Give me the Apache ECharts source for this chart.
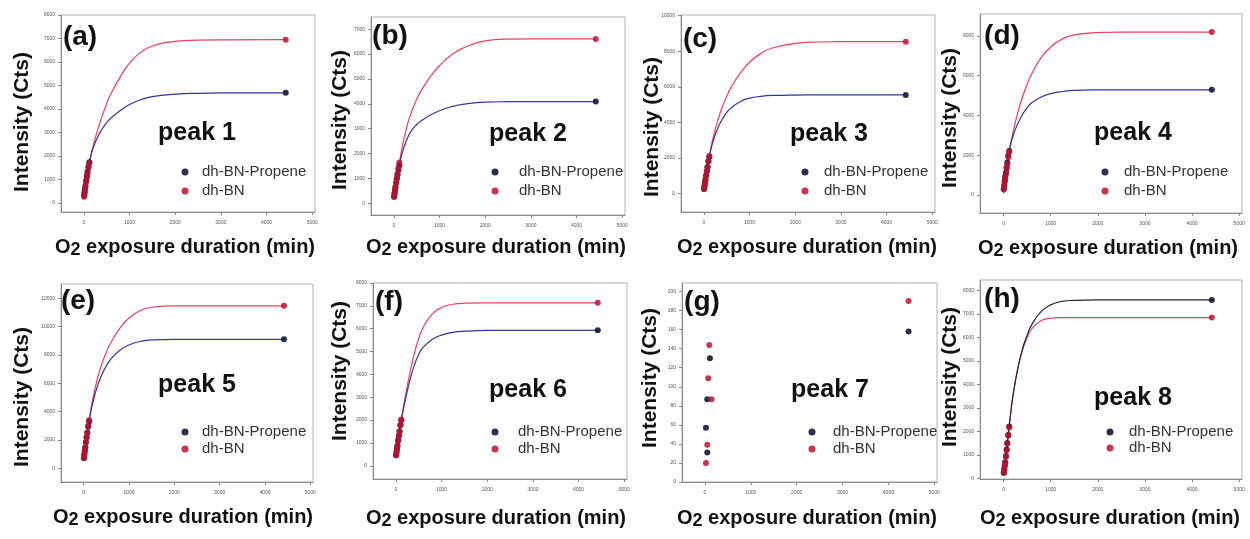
<!DOCTYPE html>
<html><head><meta charset="utf-8">
<script src="https://cdn.jsdelivr.net/npm/echarts@6/dist/echarts.min.js"></script>
<style>html,body{margin:0;padding:0;background:#fff}#c{width:1250px;height:539px}</style>
</head><body><div id="c"></div>
<script>
// ---------- data ----------
const SERIES_NAMES = ['dh-BN-Propene', 'dh-BN'];
const PANEL_TAGS = ['(a)', '(b)', '(c)', '(d)', '(e)', '(f)', '(g)', '(h)'];
const PEAK_NAMES = ['peak 1', 'peak 2', 'peak 3', 'peak 4', 'peak 5', 'peak 6', 'peak 7', 'peak 8'];
const X_TITLE = 'O{s|2} exposure duration (min)';
const Y_TITLE = 'Intensity (Cts)';
const X_TICKS = [0, 1000, 2000, 3000, 4000, 5000];

// fit-curve sample times (min) and measured times (min)
const FIT_T = [0, 50, 100, 150, 200, 300, 400, 500, 600, 800, 1000, 1250, 1500, 2000, 2500, 3000, 4420];
const PT_T = [5, 15, 25, 35, 50, 65, 80, 100, 120, 4420];

// (a) peak 1
const yTicks_a = [0, 1000, 2000, 3000, 4000, 5000, 6000, 7000, 8000];
const fitP_a = [250, 950, 1550, 1990, 2330, 2800, 3150, 3420, 3630, 3940, 4190, 4400, 4530, 4630, 4670, 4685, 4690];
const fitB_a = [200, 900, 1500, 1990, 2400, 3100, 3700, 4230, 4680, 5380, 5950, 6420, 6680, 6880, 6930, 6945, 6950];
const ptP_a = [320, 460, 600, 740, 950, 1140, 1320, 1550, 1740, 4690];
const ptB_a = [270, 410, 550, 690, 900, 1080, 1260, 1500, 1700, 6950];
// (b) peak 2
const yTicks_b = [0, 1000, 2000, 3000, 4000, 5000, 6000, 7000];
const fitP_b = [200, 830, 1350, 1780, 2130, 2640, 2960, 3170, 3320, 3550, 3720, 3880, 3980, 4070, 4085, 4090, 4090];
const fitB_b = [200, 830, 1420, 1950, 2420, 3180, 3740, 4180, 4540, 5090, 5540, 5950, 6230, 6530, 6600, 6610, 6610];
const ptP_b = [260, 390, 520, 650, 830, 990, 1150, 1350, 1530, 4090];
const ptB_b = [260, 390, 520, 650, 830, 1010, 1190, 1420, 1640, 6610];
// (c) peak 3
const yTicks_c = [0, 2000, 4000, 6000, 8000, 10000];
const fitP_c = [150, 1000, 1800, 2420, 2900, 3640, 4160, 4550, 4820, 5170, 5360, 5460, 5510, 5535, 5540, 5540, 5540];
const fitB_c = [150, 1000, 1820, 2520, 3110, 4070, 4830, 5460, 5980, 6780, 7380, 7880, 8180, 8440, 8520, 8540, 8540];
const ptP_c = [250, 420, 590, 760, 1000, 1240, 1470, 1800, 2040, 5540];
const ptB_c = [240, 410, 580, 750, 1000, 1250, 1490, 1820, 2100, 8540];
// (d) peak 4
const yTicks_d = [0, 2000, 4000, 6000, 8000];
const fitP_d = [100, 1120, 1980, 2540, 2970, 3580, 4040, 4390, 4640, 4930, 5100, 5205, 5260, 5285, 5290, 5290, 5290];
const fitB_d = [100, 1050, 1900, 2580, 3150, 4130, 4930, 5580, 6110, 6920, 7440, 7850, 8050, 8170, 8190, 8190, 8190];
const ptP_d = [300, 510, 720, 930, 1120, 1390, 1640, 1980, 2210, 5290];
const ptB_d = [290, 480, 670, 860, 1050, 1310, 1560, 1900, 2170, 8190];
// (e) peak 5
const yTicks_e = [0, 2000, 4000, 6000, 8000, 10000, 12000];
const fitP_e = [590, 1850, 2930, 3850, 4600, 5770, 6600, 7230, 7700, 8330, 8700, 8950, 9060, 9100, 9100, 9100, 9100];
const fitB_e = [590, 1850, 2980, 4000, 4880, 6290, 7360, 8190, 8850, 9880, 10600, 11130, 11360, 11460, 11460, 11460, 11460];
const ptP_e = [720, 970, 1220, 1470, 1850, 2180, 2510, 2930, 3300, 9100];
const ptB_e = [720, 970, 1220, 1470, 1850, 2190, 2530, 2980, 3390, 11460];
// (f) peak 6
const yTicks_f = [0, 1000, 2000, 3000, 4000, 5000, 6000, 7000, 8000];
const fitP_f = [390, 1100, 1770, 2320, 2800, 3680, 4370, 4870, 5190, 5540, 5720, 5840, 5890, 5925, 5930, 5930, 5930];
const fitB_f = [390, 1100, 1790, 2400, 2960, 3990, 4870, 5570, 6060, 6650, 6930, 7070, 7115, 7130, 7130, 7130, 7130];
const ptP_f = [460, 600, 740, 880, 1100, 1300, 1500, 1770, 1990, 5930];
const ptB_f = [460, 600, 740, 880, 1100, 1310, 1510, 1790, 2030, 7130];
// (g) peak 7 (points only)
const yTicks_g = [0, 20, 40, 60, 80, 100, 120, 140, 160, 180, 200];
const ptT_gP = [22, 51, 51, 109, 4440];
const ptP_g = [57, 31, 87, 130, 158];
const ptT_gB = [22, 51, 72, 94, 145, 4440];
const ptB_g = [20, 39, 109, 144, 87, 190];
// (h) peak 8
const yTicks_h = [0, 1000, 2000, 3000, 4000, 5000, 6000, 7000, 8000];
const fitP_h = [150, 950, 1850, 2750, 3520, 4660, 5500, 6100, 6550, 7110, 7390, 7540, 7580, 7600, 7600, 7600, 7600];
const fitB_h = [150, 950, 1850, 2750, 3520, 4650, 5460, 6000, 6370, 6720, 6820, 6845, 6850, 6850, 6850, 6850, 6850];
const ptP_h = [240, 390, 540, 680, 950, 1230, 1500, 1850, 2210, 7600];
const ptB_h = [230, 370, 520, 660, 920, 1200, 1470, 1820, 2180, 6850];

// ---------- layout / style ----------
const LAYOUT = [
  {grid:[61,15,254,197],  yMin:-380,  yMax:8000,  tag:[80,37],   peak:[197,133],  leg:[185,172],  iw:24, gap:4, xt:[185,247],  yt:[22,122]},
  {grid:[371,17,254,198], yMin:-470,  yMax:7490,  tag:[390,36],  peak:[528,134],  leg:[495,172],  iw:38, gap:4, xt:[496,247],  yt:[340,120]},
  {grid:[681,15,254,197], yMin:-1050, yMax:10040, tag:[700,39],  peak:[829,134],  leg:[805,172],  iw:28, gap:4, xt:[807,247],  yt:[652,127]},
  {grid:[980,14,262,199], yMin:-900,  yMax:9100,  tag:[1002,36], peak:[1133,133], leg:[1105,172], iw:28, gap:4, xt:[1108,248], yt:[950,118]},
  {grid:[61,284,252,198], yMin:-970,  yMax:13000, tag:[78,301],  peak:[197,385],  leg:[185,432],  iw:24, gap:2, xt:[183,517],  yt:[22,397]},
  {grid:[373,283,254,196],yMin:-580,  yMax:8000,  tag:[389,302], peak:[528,390],  leg:[495,432],  iw:36, gap:2, xt:[496,518],  yt:[340,371]},
  {grid:[682,283,255,199],yMin:0,     yMax:209,   tag:[702,302], peak:[830,390],  leg:[812,432],  iw:32, gap:2, xt:[807,518],  yt:[650,378]},
  {grid:[980,280,262,199],yMin:-30,   yMax:8450,  tag:[1002,299],peak:[1133,398], leg:[1110,432], iw:28, gap:1, xt:[1110,518], yt:[950,377]}
];
const PANELS = [
  {yTicks:yTicks_a, fitP:fitP_a, fitB:fitB_a, tP:PT_T, ptP:ptP_a, tB:PT_T, ptB:ptB_a},
  {yTicks:yTicks_b, fitP:fitP_b, fitB:fitB_b, tP:PT_T, ptP:ptP_b, tB:PT_T, ptB:ptB_b},
  {yTicks:yTicks_c, fitP:fitP_c, fitB:fitB_c, tP:PT_T, ptP:ptP_c, tB:PT_T, ptB:ptB_c},
  {yTicks:yTicks_d, fitP:fitP_d, fitB:fitB_d, tP:PT_T, ptP:ptP_d, tB:PT_T, ptB:ptB_d},
  {yTicks:yTicks_e, fitP:fitP_e, fitB:fitB_e, tP:PT_T, ptP:ptP_e, tB:PT_T, ptB:ptB_e},
  {yTicks:yTicks_f, fitP:fitP_f, fitB:fitB_f, tP:PT_T, ptP:ptP_f, tB:PT_T, ptB:ptB_f},
  {yTicks:yTicks_g, fitP:null,   fitB:null,   tP:ptT_gP, ptP:ptP_g, tB:ptT_gB, ptB:ptB_g},
  {yTicks:yTicks_h, fitP:fitP_h, fitB:fitB_h, tP:PT_T, ptP:ptP_h, tB:PT_T, ptB:ptB_h}
];
const FONT = '"Liberation Sans", Arial, sans-serif';
const C_P_LINE = '#34349e', C_B_LINE = '#e8405f', C_P_PT = '#16163a', C_B_PT = '#c0122f';

const zip = (xs, ys) => xs.map((x, i) => [x, ys[i]]);
const plain = v => String(v);

const grids = [], xAxes = [], yAxes = [], series = [], legends = [], graphics = [];
PANELS.forEach((p, i) => {
  const L = LAYOUT[i];
  grids.push({left:L.grid[0], top:L.grid[1], width:L.grid[2], height:L.grid[3], show:true,
    borderColor:'#b0b0b0', borderWidth:1, backgroundColor:'#fff'});
  xAxes.push({type:'value', gridIndex:i, min:-500, max:5060,
    axisLine:{show:true, onZero:false, lineStyle:{color:'#8a8a8a', width:1}},
    axisTick:{show:true, customValues:X_TICKS, length:3, lineStyle:{color:'#8a8a8a'}},
    axisLabel:{customValues:X_TICKS, formatter:plain, fontSize:5, color:'#555', margin:8, fontFamily:FONT},
    splitLine:{show:false}});
  yAxes.push({type:'value', gridIndex:i, min:L.yMin, max:L.yMax,
    axisLine:{show:true, onZero:false, lineStyle:{color:'#8a8a8a', width:1}},
    axisTick:{show:true, customValues:p.yTicks, length:3, lineStyle:{color:'#8a8a8a'}},
    axisLabel:{customValues:p.yTicks, formatter:plain, fontSize:5, color:'#555', margin:6, fontFamily:FONT},
    splitLine:{show:false}});
  const lineColP = i === 7 ? '#23233a' : C_P_LINE;
  if (p.fitB) series.push({type:'line', name:'fitB'+i, xAxisIndex:i, yAxisIndex:i, data:zip(FIT_T, p.fitB),
    showSymbol:false, symbol:'none', smooth:0.5, lineStyle:{color:C_B_LINE, width:1.2}, z:2, silent:true});
  if (p.fitP) series.push({type:'line', name:'fitP'+i, xAxisIndex:i, yAxisIndex:i, data:zip(FIT_T, p.fitP),
    showSymbol:false, symbol:'none', smooth:0.5, lineStyle:{color:lineColP, width:1.2}, z:2, silent:true});
  series.push({type:'scatter', name:SERIES_NAMES[0], xAxisIndex:i, yAxisIndex:i, data:zip(p.tP, p.ptP),
    symbol:'circle', symbolSize:6, itemStyle:{color:C_P_PT, opacity:0.9}, z:3});
  series.push({type:'scatter', name:SERIES_NAMES[1], xAxisIndex:i, yAxisIndex:i, data:zip(p.tB, p.ptB),
    symbol:'circle', symbolSize:6, itemStyle:{color:C_B_PT, opacity:0.85}, z:4});
  legends.push({data:SERIES_NAMES, orient:'vertical', left:L.leg[0] - 3.5, top:L.leg[1] - 7.5,
    padding:0, itemWidth:L.iw, itemHeight:7, itemGap:L.gap, icon:'circle', selectedMode:false,
    textStyle:{fontSize:15, color:'#333', fontFamily:FONT}});
  graphics.push({type:'text', x:L.tag[0], y:L.tag[1], style:{text:PANEL_TAGS[i], font:'bold 28px ' + FONT, fill:'#111', align:'center', verticalAlign:'middle'}, z:10});
  graphics.push({type:'text', x:L.peak[0], y:L.peak[1], style:{text:PEAK_NAMES[i], font:'bold 25px ' + FONT, fill:'#111', align:'center', verticalAlign:'middle'}, z:10});
  graphics.push({type:'text', x:L.xt[0], y:L.xt[1], style:{text:X_TITLE, font:'bold 20px ' + FONT, fill:'#111', align:'center', verticalAlign:'middle',
    rich:{s:{font:'bold 18px ' + FONT, fill:'#111', padding:[7,0,0,0]}}}, z:10});
  graphics.push({type:'text', x:L.yt[0], y:L.yt[1], rotation:Math.PI / 2, style:{text:Y_TITLE, font:'bold 21px ' + FONT, fill:'#111', align:'center', verticalAlign:'middle'}, z:10});
});

const chart = echarts.init(document.getElementById('c'), null, {renderer:'canvas'});
chart.setOption({
  backgroundColor:'#fff', animation:false,
  grid:grids, xAxis:xAxes, yAxis:yAxes, series:series, legend:legends, graphic:graphics
});
</script></body></html>
